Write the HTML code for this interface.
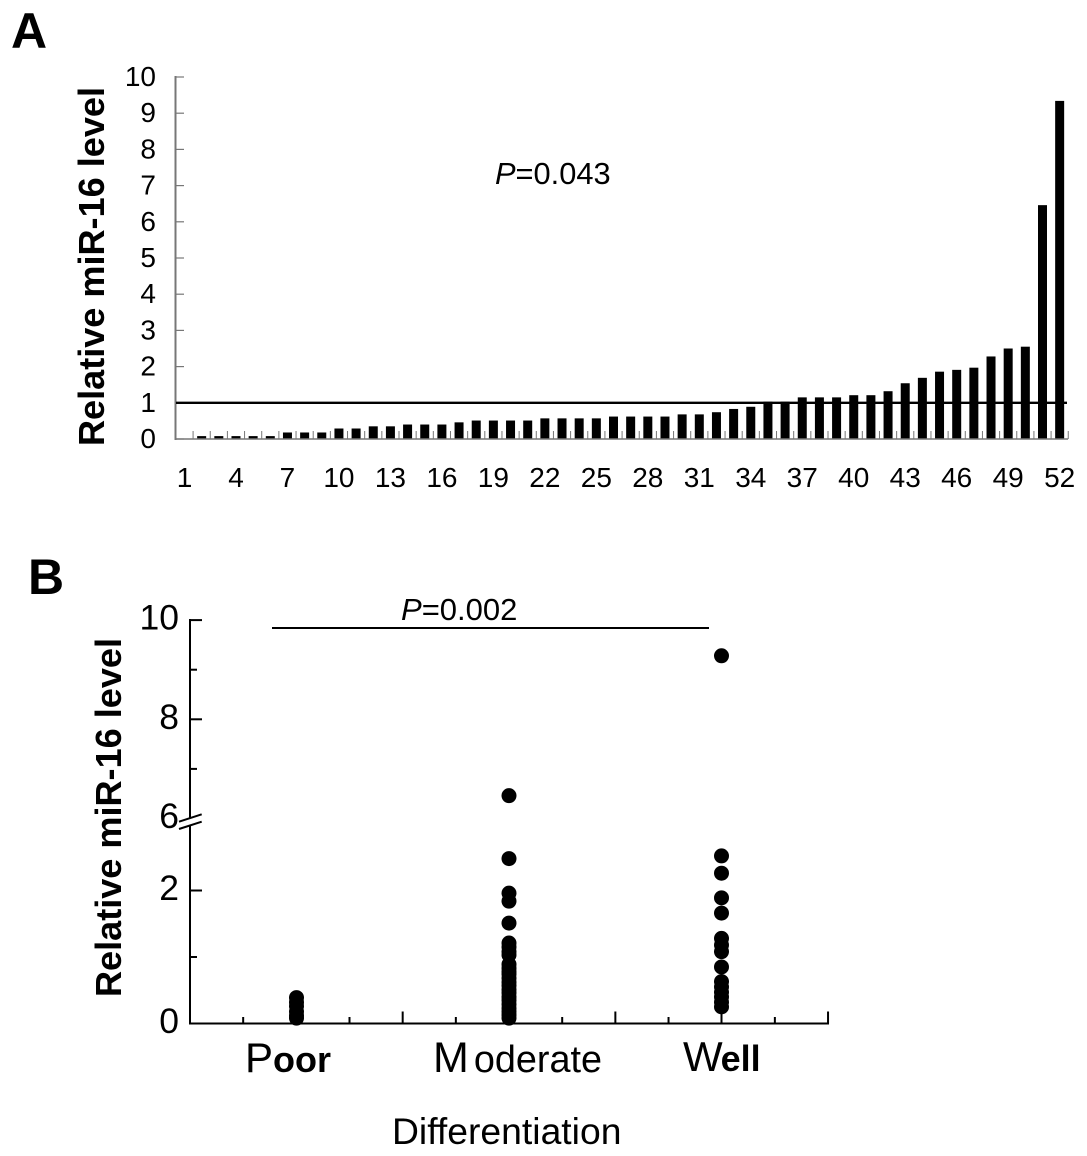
<!DOCTYPE html>
<html lang="en">
<head>
<meta charset="utf-8">
<title>Relative miR-16 level</title>
<style>
html,body{margin:0;padding:0;background:#fff;}
svg{display:block;font-family:"Liberation Sans",Arial,sans-serif;fill:#000;}
</style>
</head>
<body>
<svg id="fig" width="1087" height="1156" viewBox="0 0 1087 1156" xmlns="http://www.w3.org/2000/svg">
  <rect x="0" y="0" width="1087" height="1156" fill="#fff"/>
  <text x="11" y="48" font-size="50" font-weight="700">A</text>
  <text x="28" y="594" font-size="50" font-weight="700">B</text>
  <text transform="translate(104,446) rotate(-90)" font-size="36.1" font-weight="700">Relative miR-16 level</text>
  <text transform="translate(121,997) rotate(-90)" font-size="36.1" font-weight="700">Relative miR-16 level</text>
  <text x="495" y="184" font-size="30.8"><tspan font-style="italic">P</tspan>=0.043</text>
  <text x="401" y="620" font-size="31"><tspan font-style="italic">P</tspan>=0.002</text>
  <text x="245" y="1072"><tspan font-size="42">P</tspan><tspan font-size="36" font-weight="700">oor</tspan></text>
  <text x="433" y="1072"><tspan font-size="43">M</tspan><tspan font-size="37.8" dx="5">oderate</tspan></text>
  <text x="683" y="1071"><tspan font-size="42">W</tspan><tspan font-size="36" font-weight="700" dx="-2">ell</tspan></text>
  <text x="392" y="1144" font-size="37.3">Differentiation</text>
  <g id="panelA"></g>
  <g id="panelB"></g>
</svg>
<script>
// Panel A data
var sampleNumbers = [];
for (var s = 1; s <= 52; s++) { sampleNumbers.push(s); }
var levelsA = [0.01,0.08,0.08,0.08,0.08,0.08,0.18,0.18,0.18,0.29,0.29,0.35,0.35,0.40,0.40,0.40,0.46,0.51,0.51,0.51,0.51,0.57,0.57,0.57,0.57,0.62,0.62,0.62,0.62,0.68,0.68,0.74,0.83,0.89,1.03,1.03,1.15,1.15,1.15,1.21,1.21,1.32,1.54,1.69,1.86,1.91,1.97,2.28,2.50,2.55,6.46,9.34];
var yTicksA = [0,1,2,3,4,5,6,7,8,9,10];
var xLabelsA = [1,4,7,10,13,16,19,22,25,28,31,34,37,40,43,46,49,52];
var referenceLevel = 1;

// Panel B data
var categoriesB = ["Poor","Moderate","Well"];
var poorLevels = [0.39,0.32,0.26,0.18,0.12,0.08];
var moderateLevels = [6.46,2.48,1.96,1.84,1.51,1.21,1.15,1.08,1.03,0.89,0.83,0.78,0.74,0.68,0.62,0.57,0.51,0.46,0.40,0.35,0.29,0.23,0.18,0.13,0.08];
var wellLevels = [9.28,2.52,2.26,1.89,1.66,1.28,1.18,1.08,0.85,0.63,0.55,0.47,0.40,0.32,0.25];
var yLabelsB = [0,2,6,8,10];
var yMajorB = [0,2,8,10];
var yMinorB = [1,7,9];

var NS = "http://www.w3.org/2000/svg";
function make(tag, parent, attrs) {
  var el = document.createElementNS(NS, tag);
  for (var k in attrs) { el.setAttribute(k, attrs[k]); }
  parent.appendChild(el);
  return el;
}

// Axis functions
function xA(k) { return 184.5 + (k - 1) * 17.16; }
function yA(v) { return 439 - v * 36.2; }
function yB(v) {
  if (v <= 3) { return 1023.5 - v * 66.5; }
  if (v < 6) { return 824 - (v - 3) * (5.5 / 3); }
  return 818.5 - (v - 6) * 49.6;
}
function xB(c) { return 296.5 + c * 212.5; }

var A = document.getElementById("panelA");
var B = document.getElementById("panelB");

// Panel A bars
levelsA.forEach(function (v, i) {
  var bar = make("rect", A, { x: xA(sampleNumbers[i]) - 4.5, y: yA(v), width: 9, height: 439 - yA(v), fill: "#000" });
  
  
});

// Panel A x ticks
for (var t = 0; t <= 52; t++) {
  var tx = xA(t + 1) - 8.58;
  var xt = make("line", A, { x1: tx, x2: tx, y1: 431, y2: 439, stroke: "#777", "stroke-width": 1 });
  
  
}

// Panel A axes
var axA = make("line", A, { x1: 175.5, x2: 175.5, y1: 76, y2: 440, stroke: "#777", "stroke-width": 2 });


var axAx = make("line", A, { x1: 175, x2: 1068, y1: 439, y2: 439, stroke: "#777", "stroke-width": 1.6 });



// Panel A y ticks and labels
yTicksA.forEach(function (v) {
  var tick = make("line", A, { x1: 175.5, x2: 184, y1: yA(v), y2: yA(v), stroke: "#777", "stroke-width": 1.2 });
  
  
  var lab = make("text", A, { x: 156, y: yA(v) + 9, "font-size": 28, "text-anchor": "end" });
  lab.textContent = v;
  
  
});

// Panel A x labels
xLabelsA.forEach(function (k) {
  var lab = make("text", A, { x: xA(k), y: 487, "font-size": 28, "text-anchor": "middle" });
  lab.textContent = k;
  
  
});

// Reference line at level 1
var refLine = make("line", A, { x1: 176, x2: 1067, y1: yA(referenceLevel), y2: yA(referenceLevel), stroke: "#000", "stroke-width": 2.4 });



// Panel B axes
var axB = make("line", B, { x1: 190, x2: 190, y1: 619, y2: 1024.5, stroke: "#000", "stroke-width": 2 });


var axBx = make("line", B, { x1: 189, x2: 829, y1: 1023.5, y2: 1023.5, stroke: "#000", "stroke-width": 2 });



// Panel B y ticks
yMajorB.forEach(function (v) {
  var tick = make("line", B, { x1: 190, x2: 202, y1: yB(v), y2: yB(v), stroke: "#000", "stroke-width": 2 });
  
  
});
yMinorB.forEach(function (v) {
  var tick = make("line", B, { x1: 190, x2: 197, y1: yB(v), y2: yB(v), stroke: "#000", "stroke-width": 2 });
  
  
});
yLabelsB.forEach(function (v) {
  var lab = make("text", B, { x: 179, y: yB(v) + 9.5, "font-size": 35.5, "text-anchor": "end" });
  lab.textContent = v;
  
  
});

// Panel B axis break
var gap = make("polygon", B, { points: "179,821.7 201.7,814.3 201.7,821.7 179,829", fill: "#fff" });


var br1 = make("line", B, { x1: 179, y1: 821.7, x2: 201.7, y2: 814.3, stroke: "#000", "stroke-width": 2 });


var br2 = make("line", B, { x1: 179, y1: 829, x2: 201.7, y2: 821.7, stroke: "#000", "stroke-width": 2 });



// Panel B x ticks: one major per category boundary, minor between
for (var j = 1; j <= 12; j++) {
  var px = 190 + j * 53.17;
  var major = j % 4 === 0;
  if (j % 4 === 2) { continue; }
  var xtb = make("line", B, { x1: px, x2: px, y1: major ? 1011.5 : 1017, y2: 1023.5, stroke: "#000", "stroke-width": 2 });
  
  
}
var wellTick = make("line", B, { x1: xB(2), x2: xB(2), y1: 1011.5, y2: 1023.5, stroke: "#000", "stroke-width": 2 });



// Panel B points
[poorLevels, moderateLevels, wellLevels].forEach(function (series, c) {
  series.forEach(function (v) {
    var pt = make("circle", B, { cx: xB(c), cy: yB(v), r: 7.5, fill: "#000" });
    
    
  });
});

// Significance line
var sig = make("line", B, { x1: 272, x2: 709, y1: 628, y2: 628, stroke: "#000", "stroke-width": 2 });


</script>
</body>
</html>
